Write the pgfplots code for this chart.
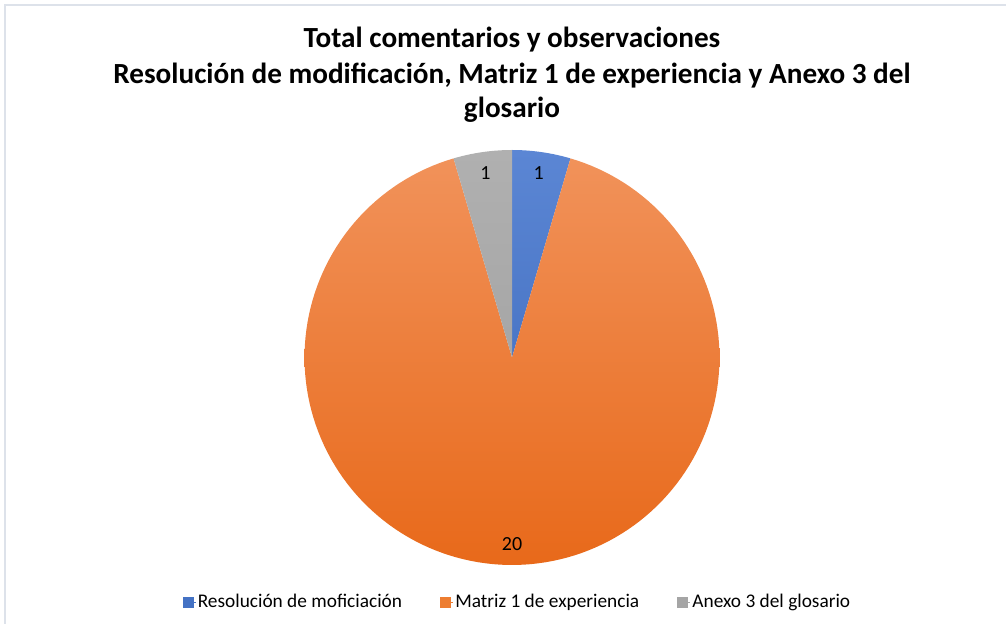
\documentclass[border=0pt]{standalone}
\usepackage{fontspec}
\setmainfont{Carlito}
\usepackage{pgfplots}
\usepackage{pgfplotstable}
\pgfplotsset{compat=1.18}

\definecolor{blueTop}{HTML}{5B86D4}
\definecolor{blueBot}{HTML}{4A76C6}
\definecolor{orangeTop}{HTML}{F1925A}
\definecolor{orangeBot}{HTML}{E8691A}
\definecolor{grayTop}{HTML}{B0B0B0}
\definecolor{grayBot}{HTML}{A6A6A6}
\definecolor{blueKey}{HTML}{4472C4}
\definecolor{orangeKey}{HTML}{ED7D31}
\definecolor{grayKey}{HTML}{A5A5A5}
\definecolor{frame}{HTML}{DDE2EA}

% comentarios por documento
\pgfplotstableread{
value
1
20
1
}\piedata

\begin{document}
\begin{tikzpicture}
\pgfplotstablegetelem{0}{value}\of\piedata \let\va\pgfplotsretval
\pgfplotstablegetelem{1}{value}\of\piedata \let\vb\pgfplotsretval
\pgfplotstablegetelem{2}{value}\of\piedata \let\vc\pgfplotsretval
\pgfmathsetmacro{\tot}{\va+\vb+\vc}
\pgfmathsetmacro{\aA}{90}
\pgfmathsetmacro{\aB}{\aA-360*\va/\tot}
\pgfmathsetmacro{\aC}{\aB-360*\vb/\tot}
\pgfmathsetmacro{\aD}{\aC-360*\vc/\tot}
\pgfmathsetmacro{\mA}{(\aA+\aB)/2}
\pgfmathsetmacro{\mB}{(\aB+\aC)/2}
\pgfmathsetmacro{\mC}{(\aC+\aD)/2}
\useasboundingbox (0pt,0pt) rectangle (754.5pt,468pt);
\draw[frame, line width=1pt] (3.75pt,0pt) -- (3.75pt,464.25pt) -- (754.5pt,464.25pt);

\node[anchor=base, font=\bfseries\fontsize{21.9}{26}\selectfont] at (384pt,432pt)
    {Total comentarios y observaciones};
\node[anchor=base, font=\bfseries\fontsize{21.9}{26}\selectfont] at (384pt,405pt)
    {Resolución de modificación, Matriz 1 de experiencia y Anexo 3 del};
\node[anchor=base, font=\bfseries\fontsize{21.9}{26}\selectfont] at (384pt,379.5pt)
    {glosario};

\begin{axis}[
    at={(384pt,199.875pt)}, anchor=center,
    scale only axis, width=311.25pt, height=311.25pt,
    xmin=-1, xmax=1, ymin=-1, ymax=1,
    hide axis, clip=false,
    legend columns=3,
    legend image code/.code={\fill[#1] (0pt,-3.75pt) rectangle (7.5pt,3.75pt);
        \path (0pt,0pt) -- (9.5pt,0pt);},
    legend style={draw=none, fill=none, at={(axis description cs:0.513,-0.089)},
        anchor=center, font=\fontsize{14.5}{17}\selectfont,
        nodes={inner sep=1.5pt},
        /tikz/every even column/.append style={column sep=27pt}},
]
\addplot[forget plot, draw=none, top color=blueTop, bottom color=blueBot,
    domain=\aB:\aA, samples=20, variable=\t] ({cos(\t)},{sin(\t)}) -- (axis cs:0,0) -- cycle;
\addplot[forget plot, draw=none, top color=orangeTop, bottom color=orangeBot,
    domain=\aC:\aB, samples=160, variable=\t] ({cos(\t)},{sin(\t)}) -- (axis cs:0,0) -- cycle;
\addplot[forget plot, draw=none, top color=grayTop, bottom color=grayBot,
    domain=\aD:\aC, samples=20, variable=\t] ({cos(\t)},{sin(\t)}) -- (axis cs:0,0) -- cycle;

\node[font=\fontsize{15}{17}\selectfont] at (axis cs:{0.9*cos(\mA)},{0.9*sin(\mA)}) {\va};
\node[font=\fontsize{15}{17}\selectfont] at (axis cs:{0.9*cos(\mB)},{0.9*sin(\mB)}) {\vb};
\node[font=\fontsize{15}{17}\selectfont] at (axis cs:{0.9*cos(\mC)},{0.9*sin(\mC)}) {\vc};

\addlegendimage{blueKey}
\addlegendentry{Resolución de moficiación}
\addlegendimage{orangeKey}
\addlegendentry{Matriz 1 de experiencia}
\addlegendimage{grayKey}
\addlegendentry{Anexo 3 del glosario}
\end{axis}
\end{tikzpicture}
\end{document}
